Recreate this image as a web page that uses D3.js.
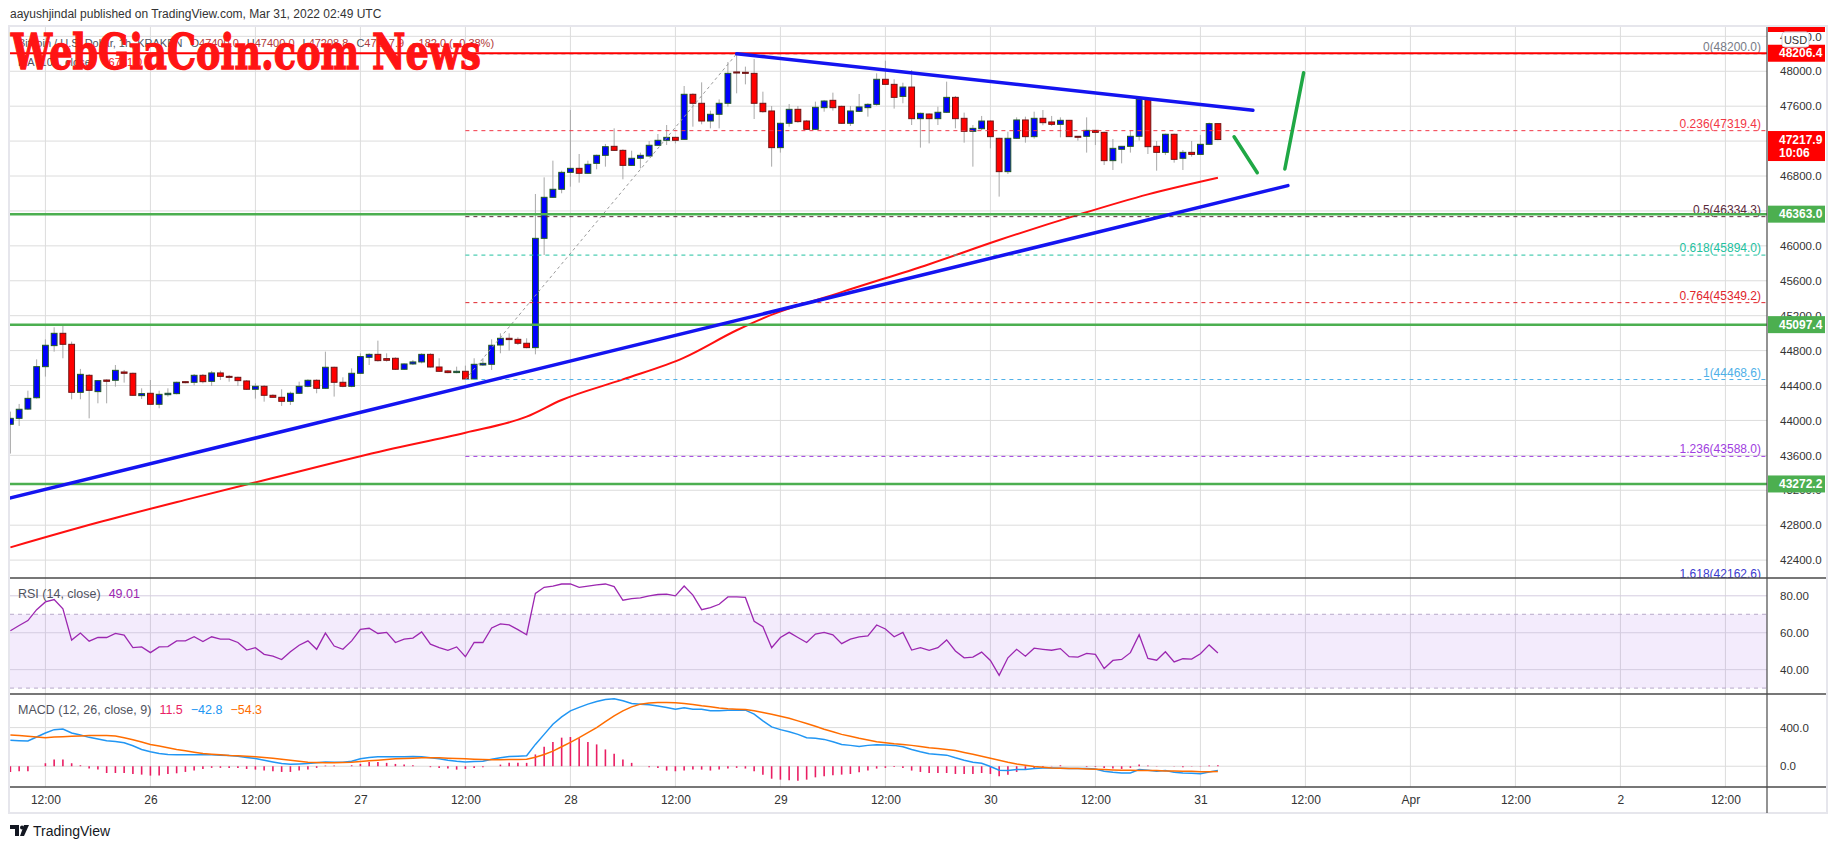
<!DOCTYPE html>
<html><head><meta charset="utf-8">
<script src="https://cdn.jsdelivr.net/npm/d3@7"></script>
<style>body{margin:0;background:#fff;overflow:hidden}svg{display:block;font-family:"Liberation Sans",Arial,sans-serif}</style>
</head><body><svg id="c" width="1834" height="848"></svg>
<script>
// ---------------- DATA ----------------
const startTime = Date.UTC(2022, 2, 25, 8); // first hourly candle (Mar 25 08:00 UTC)
const opens = [43956,44024,44130,44260,44616,44857,44998,44872,44322,44517,44330,44463,44460,44555,44540,44284,44311,44185,44295,44307,44444,44437,44517,44448,44544,44505,44494,44452,44357,44391,44288,44265,44219,44311,44391,44460,44368,44609,44437,44391,44540,44723,44757,44708,44712,44586,44647,44670,44757,44612,44567,44548,44563,44475,44635,44643,44864,44941,44929,44884,44834,46086,46556,46648,46842,46888,46831,46945,47037,47140,47094,46922,47003,47029,47152,47209,47243,47220,47736,47633,47430,47507,47633,47992,47988,47976,47633,47545,47125,47404,47564,47430,47335,47583,47667,47598,47404,47541,47583,47621,47908,47850,47712,47819,47457,47510,47457,47530,47701,47461,47312,47342,47430,47232,46850,47232,47442,47251,47461,47419,47392,47438,47255,47255,47323,47300,46976,47106,47140,47255,47679,47140,47071,47278,47003,47071,47048,47163,47400];
const highs = [44101,44189,44341,44700,44929,45067,45082,44903,44590,44532,44463,44471,44635,44578,44548,44368,44463,44341,44368,44444,44446,44532,44532,44567,44570,44521,44502,44463,44425,44406,44299,44357,44330,44444,44471,44471,44788,44616,44494,44597,44769,44769,44914,44769,44723,44654,44693,44769,44769,44712,44578,44616,44628,44712,44712,44929,44998,44998,44952,44941,46594,46785,46976,46861,47556,47052,46976,47045,47167,47346,47106,47090,47068,47201,47281,47384,47251,47831,47747,47873,47549,47678,48106,48200,48053,48140,47766,47602,47411,47625,47602,47442,47652,47671,47755,47606,47602,47740,47633,47976,48121,47908,47869,48014,47526,47518,47594,47881,47717,47526,47384,47488,47438,47239,47308,47472,47480,47537,47556,47488,47472,47442,47258,47472,47327,47308,47224,47144,47320,47701,47701,47201,47285,47285,47098,47201,47270,47412,47400];
const lows = [43620,43937,44120,44250,44502,44788,44712,44242,44242,44024,44196,44196,44387,44433,44280,44246,44177,44139,44273,44299,44425,44402,44425,44395,44463,44444,44395,44349,44250,44215,44261,44166,44177,44303,44380,44311,44360,44273,44380,44380,44532,44635,44674,44674,44578,44578,44635,44654,44605,44555,44540,44540,44468.6,44470,44624,44578,44769,44799,44864,44826,44757,45895,46548,46602,46678,46724,46823,46877,46907,47087,46762,46915,46888,47022,47144,47155,47174,47213,47365,47392,47346,47346,47594,47747,47850,47453,47526,46907,47068,47365,47411,47327,47327,47537,47549,47396,47373,47533,47480,47606,47843,47572,47633,47384,47125,47174,47384,47522,47346,47182,46907,47327,47117,46564,46823,47224,47182,47228,47381,47373,47243,47247,47205,47068,47155,46926,46869,46945,47068,47205,47052,46861,47041,46953,46869,47022,47040,47155,47208.8];
const closes = [44024,44128,44253,44616,44861,44998,44872,44322,44528,44345,44456,44448,44574,44540,44288,44307,44185,44299,44311,44437,44433,44517,44444,44544,44505,44502,44456,44357,44391,44288,44265,44219,44311,44391,44460,44368,44609,44437,44391,44540,44731,44757,44685,44689,44586,44647,44670,44757,44612,44563,44548,44563,44475,44643,44654,44861,44941,44926,44884,44834,46086,46556,46648,46842,46888,46831,46934,47037,47136,47094,46922,47003,47037,47152,47209,47243,47209,47736,47633,47430,47507,47633,47976,47980,47976,47633,47537,47125,47404,47564,47423,47335,47587,47659,47583,47404,47545,47591,47621,47908,47850,47701,47819,47457,47518,47457,47530,47701,47457,47312,47346,47430,47251,46850,47232,47442,47251,47461,47411,47392,47438,47251,47254,47323,47300,46976,47117,47140,47255,47679,47136,47071,47278,46991,47071,47048,47163,47400,47217.9];

const rsiValues = [61.1,63.9,66.6,72.5,76.7,78.0,73.0,56.0,59.8,55.4,57.4,57.4,59.6,58.7,51.9,52.3,49.2,52.3,52.5,55.6,55.6,57.8,55.2,57.8,56.5,56.5,54.7,50.6,51.9,48.3,47.3,45.5,49.7,53.2,55.6,51.0,59.8,52.8,51.0,55.6,61.8,62.4,59.6,60.2,54.7,56.5,57.1,60.4,53.8,51.9,50.5,52.3,47.0,54.7,54.7,62.6,64.8,64.2,61.7,58.9,81.3,84.6,85.3,86.4,86.4,84.6,85.3,85.9,86.4,85.0,77.6,78.5,78.9,80.0,80.7,80.9,80.0,85.3,80.4,72.5,73.6,75.4,79.4,79.4,79.1,66.2,63.3,51.9,57.4,60.2,57.4,54.7,59.3,60.2,58.9,54.1,56.5,57.8,58.3,64.2,62.0,57.8,60.2,50.6,51.9,50.5,51.9,56.1,50.1,46.4,46.8,49.5,45.0,36.9,46.4,51.0,47.3,51.6,51.0,50.5,51.4,47.0,46.8,48.8,48.3,40.6,45.0,45.5,49.2,58.9,46.1,45.1,49.7,44.2,45.9,45.7,48.6,53.4,49.01];

const macdValues = [268,264,261,303,344,379,386,344,323,299,282,264,257,243,212,174,150,132,122,118,118,118,118,118,115,111,104,90,80,63,45,28,21,24,28,35,45,42,42,52,77,90,97,97,97,97,101,97,87,77,63,52,45,49,52,73,87,101,104,108,226,330,435,511,574,609,643,671,692,699,678,650,643,636,623,609,591,605,591,591,574,574,581,581,581,539,470,407,379,358,330,296,289,278,254,226,216,205,216,223,219,216,202,174,150,129,122,115,87,63,42,31,-3,-42,-45,-35,-35,-24,-17,-17,-21,-24,-24,-24,-28,-52,-63,-70,-70,-35,-42,-52,-45,-63,-70,-73,-77,-59,-42.8];
const signalValues = [323,317,310,303,296,303,306,310,313,317,317,317,313,296,275,250,226,209,191,174,160,146,132,125,118,111,108,104,97,90,83,73,63,52,42,38,35,35,38,42,49,56,63,70,77,80,83,87,87,87,83,80,77,73,70,66,66,70,70,73,94,122,156,202,247,296,348,400,462,522,574,615,643,654,661,661,657,650,640,626,616,602,595,591,588,574,556,539,518,497,470,442,414,383,358,330,310,289,271,254,243,233,226,216,205,191,184,174,163,143,125,104,83,63,42,24,10,-3,-10,-17,-21,-24,-24,-28,-31,-35,-38,-42,-42,-45,-45,-45,-49,-49,-52,-52,-56,-56,-54.3];
const histValues = [-59,-52,-52,0,31,70,70,31,10,-24,-35,-70,-70,-70,-80,-87,-97,-97,-80,-73,-59,-45,-28,-17,-17,-17,-17,-28,-35,-45,-52,-59,-59,-45,-35,-17,7,7,0,10,24,45,45,35,24,17,10,0,-10,-17,-24,-35,-28,-17,-10,0,17,35,35,35,122,202,250,296,303,289,250,226,174,129,70,35,0,-10,-17,-45,-52,-45,-35,-35,-45,-35,-24,-17,-24,-52,-87,-129,-139,-146,-150,-139,-115,-104,-94,-87,-80,-63,-45,-24,-17,-7,-17,-45,-59,-70,-70,-70,-80,-80,-80,-70,-80,-104,-87,-59,-35,-17,-7,3,10,0,0,-7,-7,-17,-24,-28,-17,17,7,-3,0,-3,-10,-3,-3,7,11.5];

const maIndex  = [0, 10, 20, 30, 43, 52, 59, 63, 70, 77, 83, 86, 95, 105, 113, 122, 130, 138];
const maValues = [42546, 42830, 43090, 43340, 43661, 43860, 44043, 44234, 44470, 44720, 45033, 45170, 45470, 45790, 46067, 46355, 46590, 46781];

const priceTicks = [42400,42800,43200,43600,44000,44400,44800,45200,45600,46000,46400,46800,47200,47600,48000,48400];
const rsiTicks = [80, 60, 40];
const rsiBands = [70, 30];
const macdTicks = [400, 0];
const timeTickLabels = ["12:00","26","12:00","27","12:00","28","12:00","29","12:00","30","12:00","31","12:00","Apr","12:00","2","12:00"];

const fibHigh = 48200, fibLow = 44468.6, fibStartIdx = 52, fibEndIdx = 83;
const fibLevels = [0, 0.236, 0.5, 0.618, 0.764, 1, 1.236, 1.618];
const fibColors = ["#787b86", "#f23645", "#5a2a3a", "#22c1a0", "#e0242b", "#4fb0e8", "#a040e0", "#3a3ad0"];

const resistanceLevel = 48206.4;
const supportLevels = [46363.0, 45097.4, 43272.2];
// drawings: [candle index (hours from first candle), price]
const trendDown = [[83, 48200], [142, 47553]];
const trendUp = [[-0.1, 43110], [146, 46690]];
const arrowShort = [[139.85, 47250], [142.5, 46838]];
const arrowLong = [[145.65, 46880], [147.8, 47984]];

const lastPrice = 47217.9, countdown = "10:06";

// ---------------- LAYOUT ----------------
const svg = d3.select("#c");
const L = 10, R = 1767, FR = 1826;
const mainTop = 27, mainBot = 578, rsiBot = 694, macdBot = 787, frameBot = 813;
const hour = 3600e3;
const tOf = i => new Date(startTime + i * hour);
const N = closes.length;

const x = d3.scaleUtc().domain([tOf(0), tOf(138)]).range([10.4, 10.4 + 138 * 8.75]);
const yP = d3.scaleLinear().domain([42195, 48507]).range([mainBot, mainTop]);
const yR = d3.scaleLinear().domain([26.8, 89.65]).range([rsiBot, mainBot]);
const yM = d3.scaleLinear().domain([-215, 748]).range([macdBot, rsiBot]);
const timeTicks = timeTickLabels.map((l, i) => new Date(Date.UTC(2022, 2, 25, 12) + i * 12 * hour));

svg.append("rect").attr("width", 1834).attr("height", 848).attr("fill", "#fff");

const defs = svg.append("defs");
function clip(id, y0, y1) {
  defs.append("clipPath").attr("id", id).append("rect").attr("x", L).attr("y", y0).attr("width", R - L).attr("height", y1 - y0);
}
clip("cMain", mainTop, mainBot); clip("cRsi", mainBot, rsiBot); clip("cMacd", rsiBot, macdBot);
defs.append("clipPath").attr("id", "cAxis").append("rect").attr("x", R).attr("y", mainTop).attr("width", FR - R).attr("height", mainBot - mainTop);

// header
svg.append("text").attr("x", 10).attr("y", 18).attr("font-size", 12).attr("fill", "#333")
  .text("aayushjindal published on TradingView.com, Mar 31, 2022 02:49 UTC");

// frame
svg.append("rect").attr("x", 9).attr("y", 26).attr("width", FR - 8).attr("height", frameBot - 26)
  .attr("fill", "#fff").attr("stroke", "#e6e6ec").attr("stroke-width", 2);

// ----- grid -----
const grid = svg.append("g").attr("stroke", "#dcdcdc").attr("stroke-width", 1);
timeTicks.forEach(t => grid.append("line").attr("x1", x(t)).attr("x2", x(t)).attr("y1", mainTop).attr("y2", macdBot));
priceTicks.forEach(p => { if (yP(p) > mainTop) grid.append("line").attr("x1", L).attr("x2", R).attr("y1", yP(p)).attr("y2", yP(p)); });

// RSI band
svg.append("rect").attr("x", L).attr("width", R - L).attr("y", yR(rsiBands[0])).attr("height", yR(rsiBands[1]) - yR(rsiBands[0]))
  .attr("fill", "rgba(160,90,230,0.12)");
rsiTicks.forEach(v => svg.append("line").attr("x1", L).attr("x2", R).attr("y1", yR(v)).attr("y2", yR(v)).attr("stroke", "#d4cce0"));
rsiBands.forEach(v => svg.append("line").attr("x1", L).attr("x2", R).attr("y1", yR(v)).attr("y2", yR(v))
  .attr("stroke", "#b8a9c9").attr("stroke-dasharray", "4,4"));
macdTicks.forEach(v => svg.append("line").attr("x1", L).attr("x2", R).attr("y1", yM(v)).attr("y2", yM(v)).attr("stroke", "#dcdcdc"));

// ----- main pane -----
const main = svg.append("g").attr("clip-path", "url(#cMain)");

// candles
const cg = main.append("g");
d3.range(N).forEach(i => {
  const cx = x(tOf(i));
  const up = closes[i] >= opens[i];
  cg.append("line").attr("x1", cx).attr("x2", cx).attr("y1", yP(highs[i])).attr("y2", yP(lows[i]))
    .attr("stroke", "#a8a8a8").attr("stroke-width", 1);
  const yTop = yP(Math.max(opens[i], closes[i])), yBot = yP(Math.min(opens[i], closes[i]));
  cg.append("rect").attr("x", cx - 2.9).attr("width", 5.8).attr("y", yTop).attr("height", Math.max(1, yBot - yTop))
    .attr("fill", up ? "#0000ff" : "#ff0000").attr("stroke", up ? "#215a21" : "#6e1414").attr("stroke-width", 1);
});

// MA 100
main.append("path").datum(maIndex.map((k, j) => [x(tOf(k)), yP(maValues[j])]))
  .attr("d", d3.line().curve(d3.curveMonotoneX)).attr("fill", "none").attr("stroke", "#ff1010").attr("stroke-width", 2);

// fib retracement
const fx0 = x(tOf(fibStartIdx));
main.append("line").attr("x1", fx0).attr("y1", yP(fibLow)).attr("x2", x(tOf(fibEndIdx))).attr("y2", yP(fibHigh))
  .attr("stroke", "#9a9a9a").attr("stroke-dasharray", "3,3").attr("stroke-width", 1);
fibLevels.forEach((lv, k) => {
  const p = fibHigh - lv * (fibHigh - fibLow);
  main.append("line").attr("x1", fx0).attr("x2", R).attr("y1", yP(p)).attr("y2", yP(p))
    .attr("stroke", fibColors[k]).attr("stroke-dasharray", "4,4").attr("stroke-width", 1);
  main.append("text").attr("x", R - 6).attr("y", yP(p) - 3).attr("text-anchor", "end").attr("font-size", 12)
    .attr("fill", fibColors[k]).text(lv + "(" + p.toFixed(1) + ")");
});

// horizontal levels
main.append("line").attr("x1", L).attr("x2", R).attr("y1", yP(resistanceLevel)).attr("y2", yP(resistanceLevel))
  .attr("stroke", "#ff0000").attr("stroke-width", 2);
supportLevels.forEach(p => main.append("line").attr("x1", L).attr("x2", R).attr("y1", yP(p)).attr("y2", yP(p))
  .attr("stroke", "#4caf50").attr("stroke-width", 2.5));

// trend lines and arrows
const seg = (pts, col, w) => main.append("line")
  .attr("x1", x(tOf(pts[0][0]))).attr("y1", yP(pts[0][1])).attr("x2", x(tOf(pts[1][0]))).attr("y2", yP(pts[1][1]))
  .attr("stroke", col).attr("stroke-width", w).attr("stroke-linecap", "round");
seg(trendDown, "#1414f0", 3.5);
seg(trendUp, "#1414f0", 3.5);
seg(arrowShort, "#1fa845", 3.5);
seg(arrowLong, "#1fa845", 3.5);

// legend (main)
const lg = svg.append("text").attr("x", 18).attr("y", 47).attr("font-size", 11).attr("fill", "#50535e");
lg.append("tspan").text("Bitcoin / U.S. Dollar, 1h, KRAKEN");
[["O", "47400.0"], ["H", "47400.0"], ["L", "47208.8"], ["C", "47217.9"]].forEach(([k, v]) => {
  lg.append("tspan").attr("dx", 8).text(k);
  lg.append("tspan").attr("fill", "#b03a3a").text(v);
});
lg.append("tspan").attr("dx", 8).attr("fill", "#b03a3a").text("\u2212182.0 (\u22120.38%)");
const lg2 = svg.append("text").attr("x", 18).attr("y", 66).attr("font-size", 11).attr("fill", "#50535e");
lg2.append("tspan").text("MA (100, close)");
lg2.append("tspan").attr("dx", 8).attr("fill", "#ff1010").text(maValues[maValues.length - 1].toFixed(1));

// watermark
svg.append("text").attr("x", 11).attr("y", 69).attr("font-size", 49).attr("font-weight", "bold")
  .attr("font-family", "'DejaVu Serif', serif").attr("fill", "#ff1414").attr("stroke", "#ff1414").attr("stroke-width", 1.4)
  .attr("textLength", 470).attr("lengthAdjust", "spacingAndGlyphs").text("WebGiaCoin.com News");

// ----- RSI pane -----
svg.append("g").attr("clip-path", "url(#cRsi)").append("path")
  .datum(rsiValues.map((v, i) => [x(tOf(i)), yR(v)]))
  .attr("d", d3.line()).attr("fill", "none").attr("stroke", "#9c27b0").attr("stroke-width", 1.3);
const rl = svg.append("text").attr("x", 18).attr("y", 598).attr("font-size", 12.5).attr("fill", "#50535e");
rl.append("tspan").text("RSI (14, close)");
rl.append("tspan").attr("dx", 8).attr("fill", "#9c27b0").text(rsiValues[N - 1].toFixed(2));

// ----- MACD pane -----
const mg = svg.append("g").attr("clip-path", "url(#cMacd)");
d3.range(N).forEach(i => mg.append("line").attr("x1", x(tOf(i))).attr("x2", x(tOf(i)))
  .attr("y1", yM(0)).attr("y2", yM(histValues[i])).attr("stroke", "#e91e63").attr("stroke-width", 1.6));
mg.append("path").datum(macdValues.map((v, i) => [x(tOf(i)), yM(v)])).attr("d", d3.line())
  .attr("fill", "none").attr("stroke", "#2196f3").attr("stroke-width", 1.5);
mg.append("path").datum(signalValues.map((v, i) => [x(tOf(i)), yM(v)])).attr("d", d3.line())
  .attr("fill", "none").attr("stroke", "#ff6d00").attr("stroke-width", 1.5);
const ml = svg.append("text").attr("x", 18).attr("y", 714).attr("font-size", 12.5).attr("fill", "#50535e");
ml.append("tspan").text("MACD (12, 26, close, 9)");
ml.append("tspan").attr("dx", 8).attr("fill", "#e91e63").text(histValues[N - 1].toFixed(1));
ml.append("tspan").attr("dx", 8).attr("fill", "#2196f3").text("\u2212" + Math.abs(macdValues[N - 1]).toFixed(1));
ml.append("tspan").attr("dx", 8).attr("fill", "#ff6d00").text("\u2212" + Math.abs(signalValues[N - 1]).toFixed(1));

// ----- pane separators & axis border -----
[mainBot, rsiBot, macdBot].forEach(yv => svg.append("line").attr("x1", L).attr("x2", FR).attr("y1", yv).attr("y2", yv)
  .attr("stroke", "#4a4a4a").attr("stroke-width", 1.3));
svg.append("line").attr("x1", R).attr("x2", R).attr("y1", mainTop).attr("y2", frameBot).attr("stroke", "#4a4a4a").attr("stroke-width", 1.2);

// ----- axes -----
function styleAxis(g) {
  g.select(".domain").remove();
  g.selectAll("text").attr("font-size", 11.5).attr("fill", "#333").attr("font-family", "'Liberation Sans', Arial, sans-serif");
}
svg.append("g").attr("clip-path", "url(#cAxis)").append("g").attr("transform", `translate(${R},0)`)
  .call(d3.axisRight(yP).tickValues(priceTicks).tickSize(0).tickPadding(13).tickFormat(d3.format(".1f"))).call(styleAxis);
svg.append("g").attr("transform", `translate(${R},0)`)
  .call(d3.axisRight(yR).tickValues(rsiTicks).tickSize(0).tickPadding(13).tickFormat(d3.format(".2f"))).call(styleAxis);
svg.append("g").attr("transform", `translate(${R},0)`)
  .call(d3.axisRight(yM).tickValues(macdTicks).tickSize(0).tickPadding(13).tickFormat(d3.format(".1f"))).call(styleAxis);
svg.append("g").attr("transform", `translate(0,${macdBot})`)
  .call(d3.axisBottom(x).tickValues(timeTicks).tickSize(0).tickPadding(8).tickFormat((d, i) => timeTickLabels[i]))
  .call(g => { styleAxis(g); g.selectAll("text").attr("font-size", 12); });

// axis price boxes
const ab = svg.append("g").attr("clip-path", "url(#cAxis)");
function axisBox(p, col, label, sub) {
  const yv = yP(p);
  ab.append("rect").attr("x", R + 1).attr("width", FR - R - 2).attr("y", yv - 8.5).attr("height", sub ? 30 : 17).attr("fill", col);
  ab.append("text").attr("x", R + 12).attr("y", yv + 4).attr("font-size", 12).attr("font-weight", "bold").attr("fill", "#fff").text(label);
  if (sub) ab.append("text").attr("x", R + 12).attr("y", yv + 17).attr("font-size", 12).attr("font-weight", "bold").attr("fill", "#fff").text(sub);
}
axisBox(resistanceLevel, "#ff0000", resistanceLevel.toFixed(1));
axisBox(lastPrice, "#ff0000", lastPrice.toFixed(1), countdown);
supportLevels.forEach(p => axisBox(p, "#4caf50", p.toFixed(1)));
ab.append("rect").attr("x", R + 1).attr("width", FR - R - 2).attr("y", mainTop).attr("height", 5).attr("fill", "#ff0000");
// USD button
svg.append("rect").attr("x", 1782).attr("y", 32).attr("width", 27).attr("height", 15).attr("rx", 3)
  .attr("fill", "#fff").attr("stroke", "#d1d4dc");
svg.append("text").attr("x", 1795.5).attr("y", 43.5).attr("text-anchor", "middle").attr("font-size", 11).attr("fill", "#333").text("USD");

// TradingView logo
const logo = svg.append("g").attr("fill", "#131722");
logo.append("path").attr("d", "M10 825h9v11h-4v-7h-5z");
logo.append("circle").attr("cx", 22).attr("cy", 827.5).attr("r", 2);
logo.append("path").attr("d", "M24 825h5l-5 11h-4z");
svg.append("text").attr("x", 33).attr("y", 836).attr("font-size", 14).attr("fill", "#131722").text("TradingView");
</script></body></html>
